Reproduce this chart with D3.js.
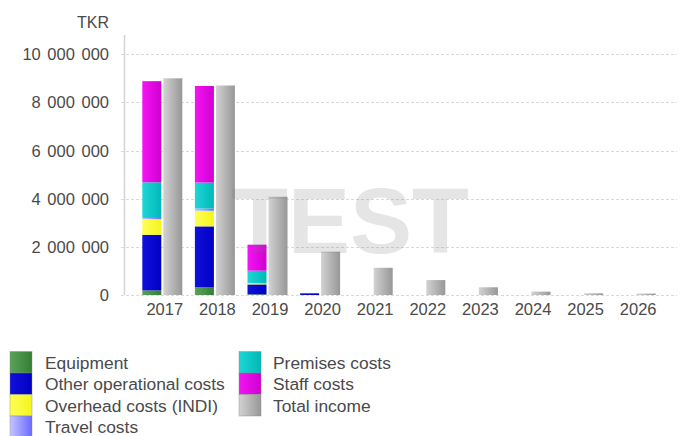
<!DOCTYPE html>
<html>
<head>
<meta charset="utf-8">
<script src="https://cdn.jsdelivr.net/npm/d3@7"></script>
<style>
  body { margin: 0; background: #fff; }
  svg { display: block; font-family: "Liberation Sans", Arial, sans-serif; }
</style>
</head>
<body>
<div id="chart"></div>
<script>
const years = ["2017", "2018", "2019", "2020", "2021", "2022", "2023", "2024", "2025", "2026"];

// cost series, stacked bottom-up
const equipment = [190000, 330000, 30000, 0, 0, 0, 0, 0, 0, 0];
const otherOperational = [2310000, 2520000, 410000, 70000, 0, 0, 0, 0, 0, 0];
const overhead = [650000, 650000, 40000, 0, 0, 0, 0, 0, 0, 0];
const travel = [50000, 90000, 20000, 0, 0, 0, 0, 0, 0, 0];
const premises = [1480000, 1080000, 510000, 0, 0, 0, 0, 0, 0, 0];
const staff = [4200000, 4010000, 1080000, 0, 0, 0, 0, 0, 0, 0];

const totalIncome = [9000000, 8700000, 4080000, 1800000, 1130000, 620000, 320000, 140000, 70000, 60000];

const yTicks = [0, 2000000, 4000000, 6000000, 8000000, 10000000];

const costSeries = [
  { key: "equipment", name: "Equipment", values: equipment, light: "#5aa25a", dark: "#347f34" },
  { key: "other", name: "Other operational costs", values: otherOperational, light: "#1010dc", dark: "#0000c4" },
  { key: "overhead", name: "Overhead costs (INDI)", values: overhead, light: "#ffff55", dark: "#f4f41c" },
  { key: "travel", name: "Travel costs", values: travel, light: "#c4c4ff", dark: "#6a6aff" },
  { key: "premises", name: "Premises costs", values: premises, light: "#1fd6d6", dark: "#00b8b8" },
  { key: "staff", name: "Staff costs", values: staff, light: "#f414f4", dark: "#d000d0" },
];
const incomeSeries = { key: "income", name: "Total income", light: "#d2d2d2", dark: "#979797" };

const width = 684;
const height = 436;
const textColor = "#4a4a4a";

const svg = d3
  .select("#chart")
  .append("svg")
  .attr("width", width)
  .attr("height", height);

// gradients, light on the left to darker on the right
const defs = svg.append("defs");
for (const s of [...costSeries, incomeSeries]) {
  const g = defs
    .append("linearGradient")
    .attr("id", "grad-" + s.key)
    .attr("x1", 0)
    .attr("x2", 1)
    .attr("y1", 0)
    .attr("y2", 0);
  g.append("stop").attr("offset", "0%").attr("stop-color", s.light);
  g.append("stop").attr("offset", "100%").attr("stop-color", s.dark);
}

const x = d3.scaleBand().domain(years).range([136, 662]).padding(0);
const xSub = d3
  .scaleBand()
  .domain(["cost", "income"])
  .range([0, x.bandwidth()])
  .paddingInner(0.095)
  .paddingOuter(0.3);
const y = d3.scaleLinear().domain([0, 10000000]).range([295, 54.2]);

const fmt = (v) => d3.format(",")(v).replace(/,/g, " ");

// grid
svg
  .append("g")
  .selectAll("line")
  .data(yTicks)
  .join("line")
  .attr("x1", 121)
  .attr("x2", 677)
  .attr("y1", (d) => Math.round(y(d)) + 0.5)
  .attr("y2", (d) => Math.round(y(d)) + 0.5)
  .attr("stroke", "#d9d9d9")
  .attr("stroke-dasharray", "3,2");

// y axis line
svg
  .append("line")
  .attr("x1", 124.5)
  .attr("x2", 124.5)
  .attr("y1", 35)
  .attr("y2", 295)
  .attr("stroke", "#d4d4d4")
  .attr("stroke-width", 1.5);

// y labels
svg
  .append("g")
  .selectAll("text")
  .data(yTicks)
  .join("text")
  .attr("x", 109)
  .attr("y", (d) => y(d) + 6)
  .attr("text-anchor", "end")
  .attr("font-size", 16.5)
  .attr("word-spacing", "2px")
  .attr("fill", textColor)
  .text(fmt);

svg
  .append("text")
  .attr("x", 109)
  .attr("y", 28)
  .attr("text-anchor", "end")
  .attr("font-size", 16)
  .attr("fill", textColor)
  .text("TKR");

// x labels
svg
  .append("g")
  .selectAll("text")
  .data(years)
  .join("text")
  .attr("x", (d) => x(d) + x.bandwidth() / 2 + 2.5)
  .attr("y", 314.5)
  .attr("text-anchor", "middle")
  .attr("font-size", 16.5)
  .attr("fill", textColor)
  .text((d) => d);

// stacked cost bars
const table = years.map((yr, i) => {
  const row = { year: yr };
  costSeries.forEach((s) => (row[s.key] = s.values[i]));
  return row;
});
const stack = d3.stack().keys(costSeries.map((s) => s.key))(table);

svg
  .append("g")
  .selectAll("g")
  .data(stack)
  .join("g")
  .attr("fill", (d) => `url(#grad-${d.key})`)
  .selectAll("rect")
  .data((d) => d.filter((p) => p[1] > p[0]))
  .join("rect")
  .attr("x", (d) => x(d.data.year) + xSub("cost"))
  .attr("width", xSub.bandwidth())
  .attr("y", (d) => y(d[1]))
  .attr("height", (d) => y(d[0]) - y(d[1]));

// total income bars
svg
  .append("g")
  .attr("fill", "url(#grad-income)")
  .selectAll("rect")
  .data(years.map((yr, i) => ({ year: yr, value: totalIncome[i] })))
  .join("rect")
  .attr("x", (d) => x(d.year) + xSub("income"))
  .attr("width", xSub.bandwidth())
  .attr("y", (d) => y(d.value))
  .attr("height", (d) => y(0) - y(d.value));

// watermark
svg
  .append("text")
  .attr("x", 350)
  .attr("y", 253)
  .attr("text-anchor", "middle")
  .attr("font-size", 93)
  .attr("font-weight", "bold")
  .attr("fill", "#7a7a7a")
  .attr("opacity", 0.19)
  .text("TEST");

// legend
const legendItems = [...costSeries, incomeSeries];
const legend = svg
  .append("g")
  .selectAll("g")
  .data(legendItems)
  .join("g")
  .attr("transform", (d, i) => {
    const col = Math.floor(i / 4);
    const row = i % 4;
    return `translate(${col === 0 ? 10 : 239},${351.5 + row * 21.5})`;
  });

legend
  .append("rect")
  .attr("width", 22)
  .attr("height", 21.5)
  .attr("fill", (d) => `url(#grad-${d.key})`)
  .attr("stroke", "#8a8a8a")
  .attr("stroke-opacity", 0.5)
  .attr("stroke-width", 0.8);

legend
  .append("text")
  .attr("x", (d, i) => (i < 4 ? 35 : 34))
  .attr("y", 17)
  .attr("font-size", 17.4)
  .attr("fill", textColor)
  .text((d) => d.name);
</script>
</body>
</html>
